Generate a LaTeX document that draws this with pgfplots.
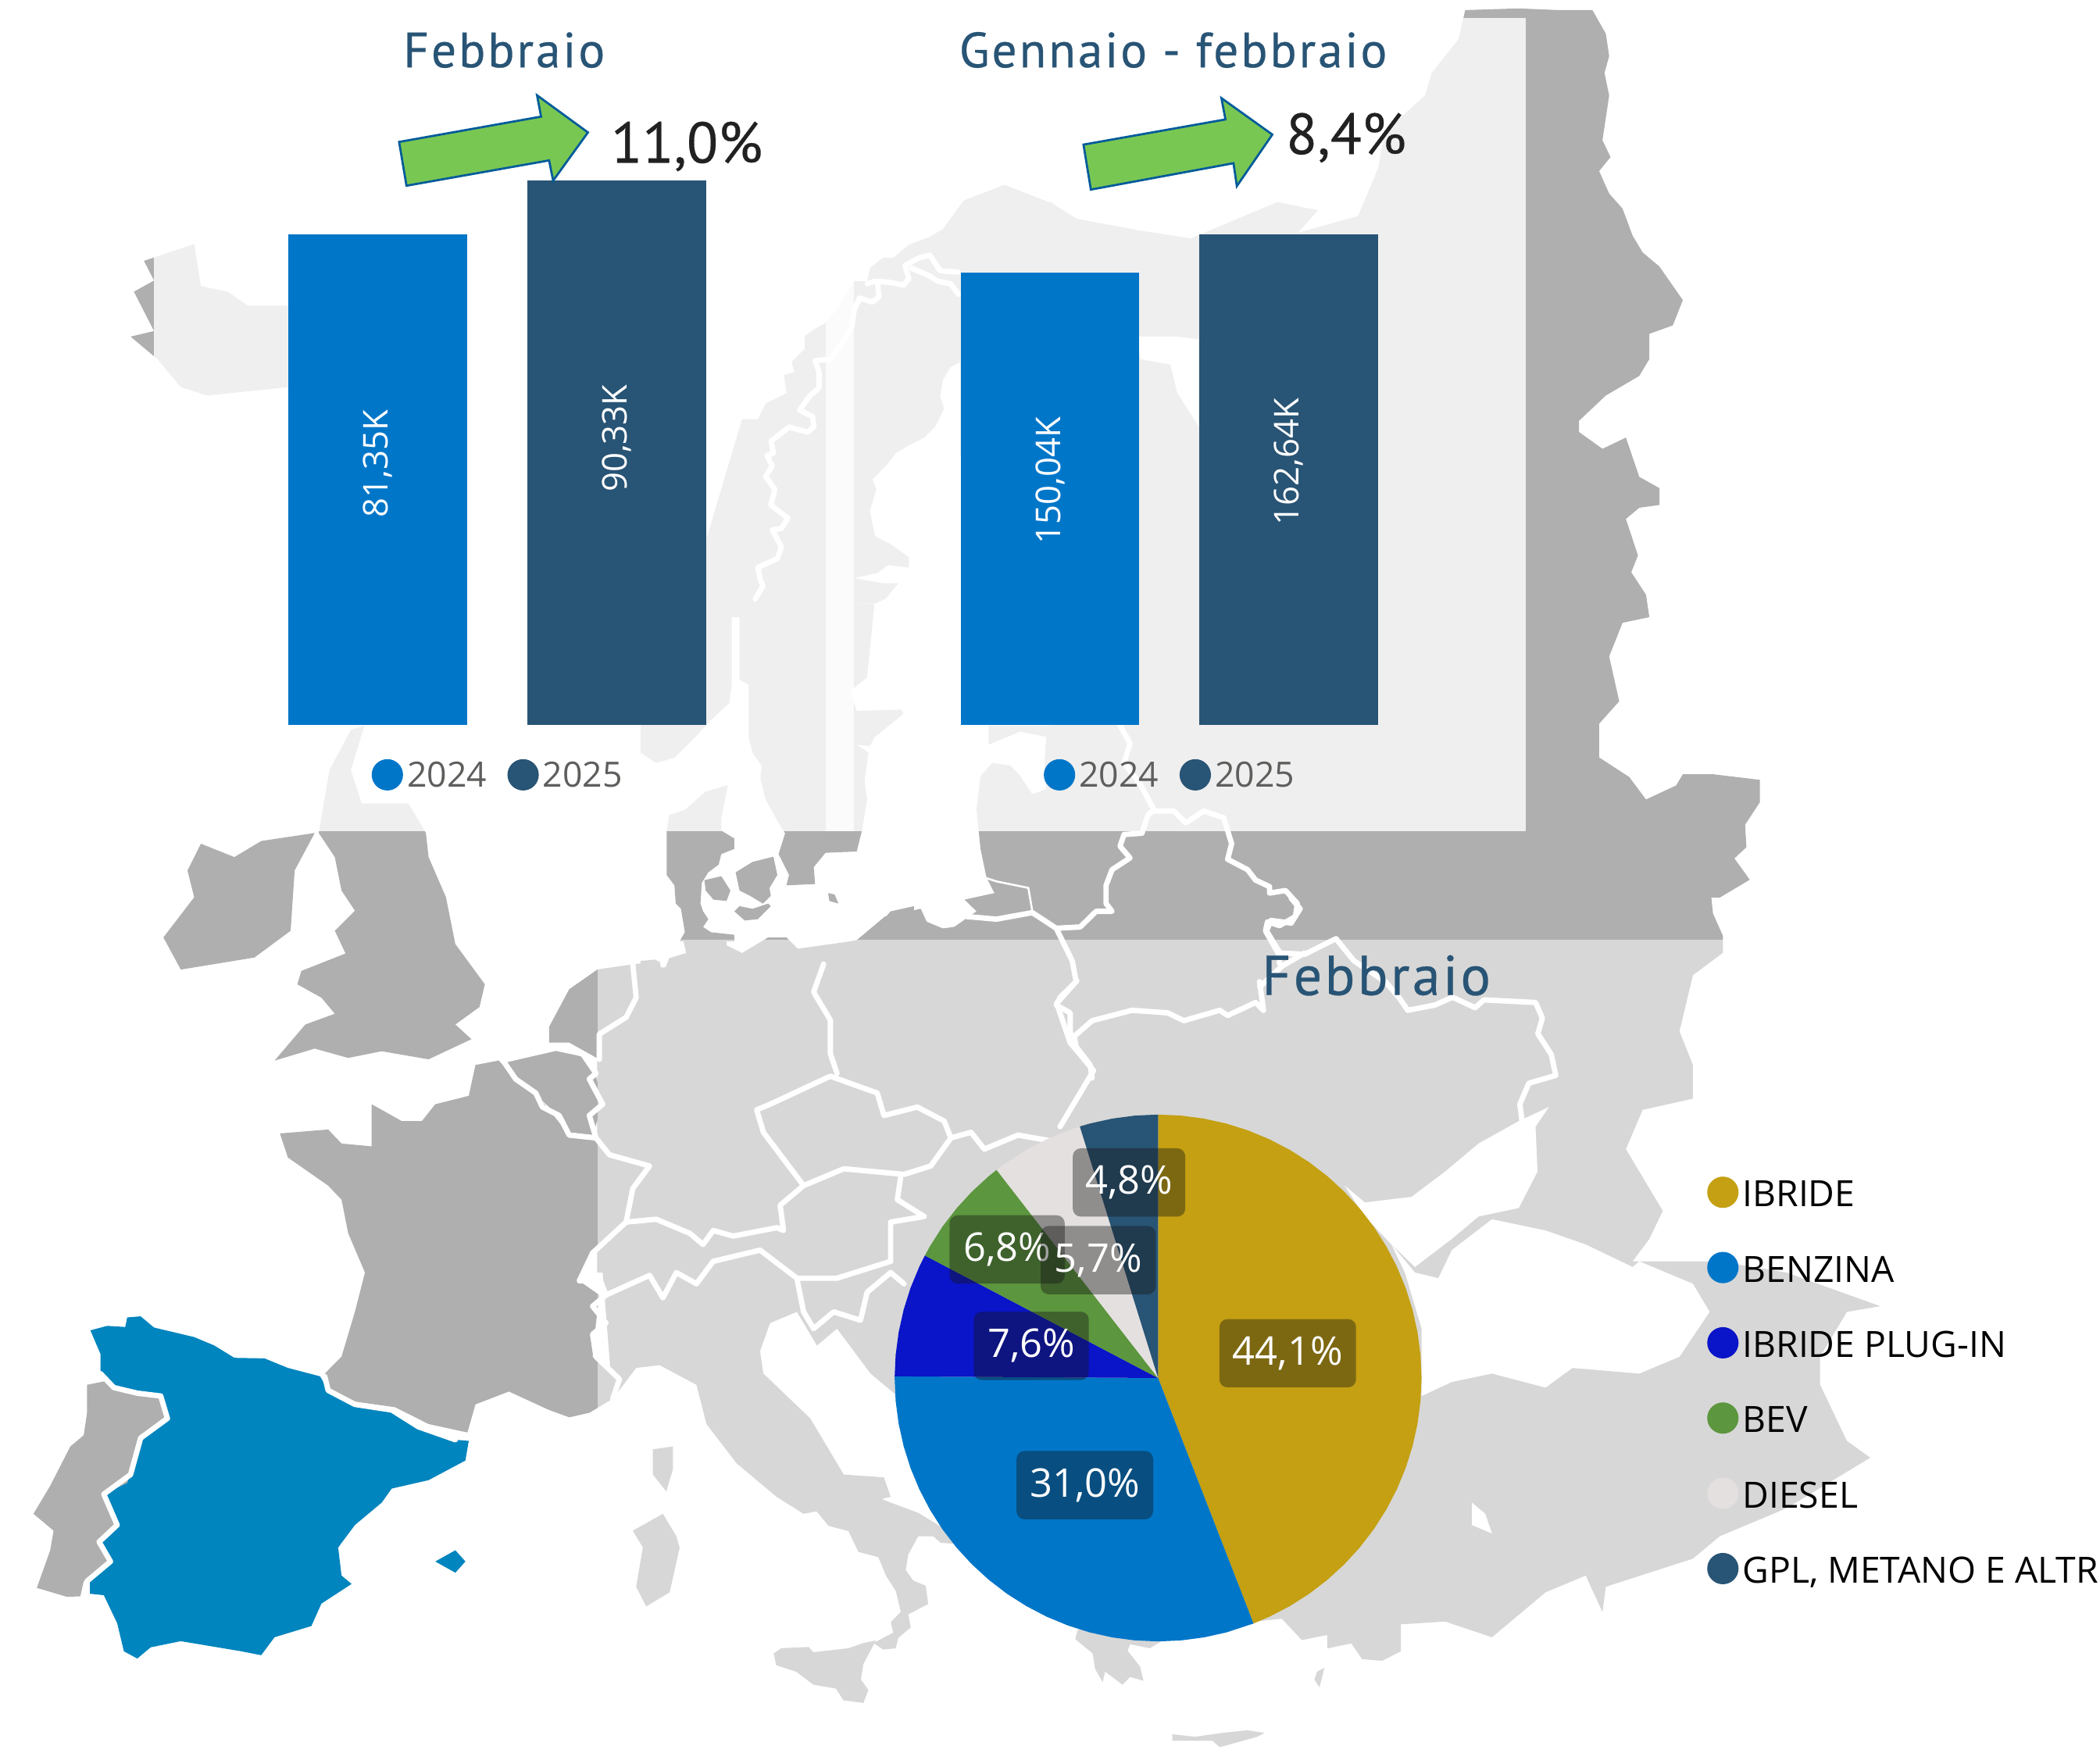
\documentclass[border=0pt]{standalone}
\usepackage{fontspec}
\usepackage{pgfplots}
\pgfplotsset{compat=1.18}
\usepgfplotslibrary{polar}
\setmainfont{Open Sans}
\newfontfamily\din[LetterSpace=4.6,FakeBold=0.4]{PT Sans}
\newfontfamily\dinn[FakeBold=0.4]{PT Sans}
\definecolor{landg}{HTML}{AFAFAF}
\definecolor{spain}{HTML}{0085BE}
\definecolor{b24}{HTML}{0076C9}
\definecolor{b25}{HTML}{285475}
\definecolor{gold}{HTML}{C4A012}
\definecolor{plug}{HTML}{0A14C8}
\definecolor{bev}{HTML}{5C963E}
\definecolor{dies}{HTML}{E4E0DF}
\definecolor{legt}{HTML}{605E5C}
\definecolor{arrf}{HTML}{79C753}
\definecolor{arrd}{HTML}{005B9A}
\definecolor{boxc}{HTML}{141414}
\pgfplotsset{
 Z/.style n args={4}{x filter/.expression={#1+x/#2},y filter/.expression={#3+y/#4}},
 z1/.style={Z={0}{2}{0}{2.387}},
 z2/.style={Z={784}{2}{0}{2.387}},
 z3/.style={Z={0}{2}{657}{2.387}},
 z4/.style={Z={784}{2}{657}{2.387}},
 z5/.style={Z={583.3}{3.36}{513.3}{5.143}},
 z6/.style={Z={554.2}{5.143}{145.8}{5.143}},
 z7/.style={Z={816.7}{2.986}{670.8}{5.143}},
 z8/.style={Z={495.8}{2.687}{1108.3}{5.143}},
 z9/.style={Z={478.3}{5.143}{525}{5.143}},
 land/.style={fill=landg,draw=none},
 sea/.style={fill=white,draw=none},
 bd/.style={draw=white,line width=4pt,line join=round,line cap=round,fill=none},
 dot/.style={legend image code/.code={\fill[fill=#1] (0pt,0.3pt) circle (11.7pt);}},
 pdot/.style={legend image code/.code={\fill[fill=#1] (0pt,3.3pt) circle (11.7pt);}},
}
\begin{document}
\begin{tikzpicture}
\useasboundingbox (0,0) rectangle (1568pt,1313.7pt);
\clip (0,0) rectangle (1568pt,1313.7pt);
% ---------- background map ----------
\begin{axis}[at={(0pt,0pt)},anchor=south west,scale only axis,width=1568pt,height=1313.7pt,
 xmin=0,xmax=1568,ymin=0,ymax=1313.7,y dir=reverse,hide axis]
% Russia and the north-east
\addplot[land,z2] coordinates {(620,18)(700,15)(760,18)(810,18)(830,60)(835,100)(828,130)(835,170)(830,210)(825,250)(837,280)(820,305)(835,345)(855,372)(870,420)(885,450)(910,475)(945,535)(930,580)(895,595)(895,640)(880,670)(830,705)(790,750)(790,770)(825,800)(860,780)(880,850)(910,870)(910,900)(880,905)(860,925)(878,990)(868,1020)(890,1060)(895,1100)(855,1110)(835,1170)(850,1250)(820,1290)(820,1350)(865,1385)(890,1425)(935,1400)(945,1380)(990,1380)(1060,1390)(1060,1430)(1038,1470)(1040,1510)(1022,1530)(1045,1568)(1000,1600)(0,1600)(0,360)(40,390)(130,410)(210,425)(340,360)(400,375)(370,415)(460,385)(490,300)(500,235)(560,170)(570,130)(610,70)};
\addplot[land,z5] coordinates {(520,146)(520,220)(545,240)(530,290)(500,340)(490,470)(500,620)(515,730)(535,790)(460,815)(490,860)(420,935)(365,900)(350,850)(260,880)(190,970)(1568,1000)(1568,146)};
% East Europe, Turkey
\addplot[land,z4] coordinates {(985,0)(990,60)(1005,100)(1005,130)(960,170)(940,270)(960,330)(960,390)(885,410)(860,480)(915,590)(895,640)(870,680)(1000,680)(1100,700)(1240,760)(1190,770)(1150,850)(1150,900)(1190,1000)(1225,1030)(1100,1120)(1000,1170)(960,1210)(830,1260)(825,1305)(800,1240)(740,1270)(660,1350)(590,1322)(524,1327)(524,1375)(496,1392)(466,1389)(450,1361)(414,1370)(414,1346)(376,1355)(346,1317)(306,1322)(152,1056)(60,900)(100,600)(0,300)(-600,300)(-600,160)(0,60)(100,0)};
% Central Europe and Balkans
\addplot[land,z3] coordinates {(892,160)(950,150)(985,145)(1000,260)(1568,200)(1568,40)(1700,0)(1800,600)(1700,887)(1500,900)(1340,920)(1300,880)(1250,800)(1220,830)(1190,770)(1100,700)(892,700)};
\addplot[land,z9] coordinates {(0,990)(60,985)(90,1030)(110,980)(175,960)(165,915)(330,915)(330,930)(390,960)(490,900)(560,900)(620,960)(680,1000)(710,1050)(740,1010)(750,930)(830,910)(890,880)(960,800)(1050,780)(1050,1300)(0,1300)};
% North Italy, boot, islands
\addplot[land,z3] coordinates {(915,925)(950,870)(985,865)(1040,900)(1055,970)(1100,1040)(1160,1100)(1200,1130)(1330,1100)(1320,1065)(1260,1060)(1210,960)(1140,880)(1135,840)(1150,790)(1190,770)(1220,700)(900,700)};
\addplot[land,z8] coordinates {(210,0)(250,70)(300,90)(330,160)(370,180)(390,260)(430,280)(445,350)(465,410)(475,490)(455,530)(460,570)(420,610)(440,635)(465,630)(470,590)(495,550)(490,500)(530,460)(525,390)(500,370)(485,330)(490,270)(510,200)(540,200)(555,225)(590,230)(570,180)(510,110)(440,60)(435,30)(400,-20)(250,-30)};
\addplot[land,z8] coordinates {(220,650)(235,630)(290,625)(300,645)(370,630)(400,610)(425,600)(400,690)(395,750)(410,790)(400,840)(360,830)(345,785)(300,770)(265,720)(225,695)};
\addplot[land,z8] coordinates {(830,560)(825,595)(860,650)(865,710)(880,760)(885,720)(920,770)(935,740)(962,755)(955,700)(930,640)(935,615)(975,630)(1000,600)(900,500)};
\addplot[land,z8] coordinates {(1020,960)(1065,970)(1120,955)(1170,945)(1205,955)(1190,970)(1115,1010)(1100,985)(1020,985)};
\addplot[land,z8] coordinates {(1310,720)(1325,705)(1315,780)(1305,750)};
\addplot[land,z3] coordinates {(945,1160)(990,1130)(1010,1170)(1015,1190)(1000,1270)(965,1295)(950,1260)(960,1190)};
\addplot[land,z3] coordinates {(975,1015)(1005,1010)(1005,1050)(995,1090)(975,1060)};
% France, Benelux, Portugal
\addplot[land,z3] coordinates {(418,452)(490,445)(510,470)(555,475)(555,400)(600,430)(630,430)(650,400)(700,385)(710,330)(745,322)(770,355)(810,395)(850,455)(892,460)(905,490)(970,510)(945,550)(935,610)(885,665)(865,715)(895,740)(890,790)(885,850)(925,890)(915,925)(880,950)(850,958)(820,945)(760,912)(710,935)(698,985)(640,970)(590,940)(530,930)(490,905)(485,880)(510,850)(530,770)(545,700)(520,630)(510,570)(490,545)(430,495)};
\addplot[land,z3] coordinates {(750,320)(830,300)(880,320)(890,350)(900,400)(885,455)(850,450)(820,405)(770,350)};
\addplot[land,z3] coordinates {(820,262)(850,195)(892,160)(950,150)(950,210)(920,270)(895,275)(895,320)(850,290)(820,290)};
\addplot[land,z3] coordinates {(130,900)(160,893)(175,910)(205,915)(240,920)(250,960)(210,995)(190,1075)(155,1095)(175,1150)(148,1180)(165,1215)(125,1250)(120,1277)(100,1278)(55,1262)(75,1195)(80,1160)(50,1130)(75,1080)(105,1010)(125,990)(130,950)};
% Great Britain, Ireland (plot units of the page)
\addplot[land] coordinates {(246,575)(262,545)(272,542)(262,575)(270,600)(305,600)(318,622)(320,640)(333,670)(340,705)(362,735)(358,752)(340,765)(352,776)(320,791)(285,785)(260,790)(235,783)(205,792)(228,765)(250,757)(240,745)(222,735)(225,725)(258,712)(250,695)(265,680)(255,665)(250,640)(238,622)};
\addplot[land] coordinates {(150,630)(175,640)(195,628)(235,622)(220,650)(217,695)(190,715)(135,724)(122,700)(145,670)(140,650)};
% Iceland
\addplot[land,z1] coordinates {(215,465)(290,435)(300,510)(340,520)(370,545)(430,545)(430,690)(310,705)(270,690)(235,640)(195,600)(230,590)(200,520)(230,500)};
% Scandinavia
\addplot[land,z6] coordinates {(0,860)(60,860)(90,800)(170,760)(160,690)(200,680)(190,640)(240,590)(240,540)(285,510)(320,490)(370,430)(430,330)(480,330)(490,280)(540,240)(580,240)(640,190)(720,160)(770,130)(800,90)(850,20)(1007,-40)(1182,28)(1182,1000)(837,1000)(837,640)(800,660)(770,710)(760,770)(775,820)(740,890)(700,930)(640,960)(590,990)(560,1030)(540,1050)(500,1090)(515,1130)(490,1210)(510,1310)(570,1340)(640,1390)(640,1430)(560,1420)(520,1450)(430,1470)(540,1490)(600,1490)(550,1550)(510,1568)(0,1568)};
\addplot[land,z1] coordinates {(1108,748)(1055,960)(1055,1100)(1200,1100)(1200,748)};
\addplot[land,z9] coordinates {(415,130)(430,190)(465,240)(460,290)(480,370)(530,460)(555,500)(530,580)(570,660)(560,700)(670,695)(665,630)(710,575)(830,570)(850,490)(870,370)(860,300)(875,190)(830,160)(880,165)(900,130)(950,90)(1010,40)(1000,25)(830,30)(820,0)(810,-50)(870,-100)(898,-380)(380,-400)(380,-90)(415,-70)};
\addplot[land,z9] coordinates {(0,190)(60,230)(130,210)(220,120)(270,65)(340,0)(350,-70)(350,-400)(0,-400)};
\addplot[land,z9] coordinates {(100,490)(110,430)(170,410)(250,340)(335,315)(310,440)(310,490)(360,520)(360,560)(310,580)(300,620)(260,650)(235,690)(230,770)(240,800)(260,830)(240,860)(270,880)(360,890)(360,915)(150,915)(170,880)(155,790)(135,770)(130,700)(100,660)};
\addplot[land,z9] coordinates {(245,680)(310,665)(345,720)(330,760)(280,755)(250,720)};
\addplot[land,z9] coordinates {(365,650)(430,610)(510,590)(525,660)(495,710)(500,740)(470,770)(420,740)(380,720)};
\addplot[land,z9] coordinates {(360,800)(380,780)(430,790)(490,770)(500,780)(450,830)(400,835)};
\addplot[land,z9] coordinates {(720,730)(745,735)(760,770)(725,760)};
% water on land
\addplot[sea,z2] coordinates {(130,600)(190,600)(222,605)(222,760)(190,700)(180,650)(135,640)};
\addplot[sea,z5] coordinates {(520,220)(600,170)(665,190)(660,300)(665,390)(630,410)(600,340)(575,300)(530,290)};
\addplot[sea,z4] coordinates {(470,600)(440,545)(470,575)(540,565)(590,520)(640,470)(700,430)(745,405)(725,440)(728,520)(700,585)(640,600)(600,640)(545,690)(510,650)};
\addplot[sea,z4] coordinates {(510,650)(545,700)(580,710)(600,660)(660,605)(740,625)(800,650)(870,690)(880,680)(960,720)(985,770)(940,850)(880,880)(780,870)(740,905)(660,880)(600,895)(555,920)(555,800)(530,700)};
\addplot[sea,z4] coordinates {(630,1110)(650,1130)(660,1165)(630,1150)};
% Spain
\addplot[fill=spain,draw=none,z3] coordinates {(135,803)(160,795)(187,797)(190,780)(210,778)(230,798)(290,815)(320,830)(350,852)(395,853)(430,870)(478,885)(490,910)(530,935)(585,945)(625,975)(680,998)(700,1000)(695,1035)(640,1070)(585,1085)(570,1110)(530,1150)(505,1190)(510,1240)(525,1255)(480,1290)(465,1330)(410,1350)(390,1382)(360,1375)(270,1357)(225,1368)(205,1388)(185,1375)(175,1325)(155,1275)(130,1272)(130,1250)(165,1215)(148,1180)(175,1150)(155,1095)(190,1075)(210,1000)(250,960)(240,920)(205,910)(170,905)(150,880)(150,845)};
\addplot[fill=spain,draw=none,z3] coordinates {(650,1215)(680,1195)(695,1215)(680,1235)};
% borders
\addplot[bd,z3] coordinates {(150,880)(170,905)(205,915)(240,920)(250,960)(210,995)(195,1060)(155,1095)(175,1150)(148,1180)(165,1215)(130,1250)(130,1275)};
\addplot[bd,z3] coordinates {(485,885)(490,910)(530,935)(585,945)(625,975)(680,998)};
\addplot[bd,z3] coordinates {(945,150)(950,210)(935,245)(895,275)(895,320)};
\addplot[bd,z3] coordinates {(750,320)(770,355)(800,380)(810,405)(835,420)(850,455)(890,460)(910,490)(970,510)(945,550)(935,610)(885,665)(865,715)(895,710)(905,740)(885,760)(905,790)(885,810)(890,850)(925,890)(915,925)};
\addplot[bd,z3] coordinates {(750,322)(830,300)(870,310)(890,345)(880,355)(900,400)(880,420)(890,460)};
\addplot[bd,z3] coordinates {(935,610)(980,605)(1030,630)(1050,650)(1065,625)(1095,635)(1160,620)(1170,625)(1165,580)(1200,545)(1140,450)(1130,410)(1150,400)(1240,350)(1310,380)(1320,420)(1370,405)(1410,430)(1420,460)(1390,510)(1350,525)(1260,515)(1200,545)};
\addplot[bd,z3] coordinates {(905,740)(970,705)(990,745)(1010,700)(1040,720)(1065,680)(1135,660)(1190,710)(1250,710)(1330,680)(1330,610)(1355,605)(1380,600)(1340,570)(1345,530)};
\addplot[bd,z3] coordinates {(1190,710)(1200,770)(1215,800)(1245,770)(1285,785)(1295,735)(1330,700)(1350,720)};
\addplot[bd,z3] coordinates {(1420,460)(1450,450)(1470,480)(1520,455)(1568,465)(1600,470)};
\addplot[bd,z3] coordinates {(1230,150)(1215,200)(1240,250)(1240,310)(1250,345)};
\addplot[bd,z5] coordinates {(850,146)(875,215)(860,290)(900,370)(935,470)(920,490)(905,560)(860,565)(850,610)(875,655)(830,700)(815,760)(815,830)(830,860)(790,860)(750,920)(690,925)(630,865)(540,890)(465,880)};
\addplot[bd,z5,line width=1.5pt] coordinates {(510,730)(540,745)(620,770)(630,860)};
\addplot[bd,z5] coordinates {(935,475)(985,475)(1015,520)(1060,475)(1110,500)(1130,600)(1120,660)(1170,700)(1190,740)(1225,765)(1225,790)(1265,780)(1295,830)(1290,880)(1250,915)(1220,900)(1215,935)(1250,1030)(1250,1060)};
\addplot[bd,z5] coordinates {(690,925)(730,1050)(740,1130)(700,1190)(690,1220)(725,1250)(725,1330)(735,1340)(740,1380)(775,1450)(780,1500)};
\addplot[bd,z5] coordinates {(735,1340)(780,1280)(880,1240)(970,1250)(1010,1280)(1100,1240)(1120,1260)(1190,1210)(1210,1240)(1200,1130)};
\addplot[bd,z7] coordinates {(440,0)(460,40)(440,95)(395,85)(385,125)(415,210)(470,215)(540,155)(580,240)(650,320)(680,380)(700,430)(760,410)(800,380)(850,420)(870,390)(985,400)(1000,460)(990,520)(1020,600)(1030,680)(970,710)(950,790)(955,860)};
\addplot[bd,z7] coordinates {(370,340)(420,260)(470,210)};
\addplot[bd,z4] coordinates {(40,180)(10,220)(30,290)(65,340)(15,440)};
\addplot[bd,z6] coordinates {(480,340)(510,330)(570,335)(620,345)(640,320)(625,270)(680,240)(720,230)(760,290)(830,295)};
\addplot[bd,z6] coordinates {(650,280)(720,310)(750,330)(800,340)(830,380)};
\addplot[bd,z6] coordinates {(520,340)(525,390)(500,410)(450,395)(430,440)(420,510)(360,600)(340,630)(280,635)(295,680)(295,740)(260,770)(220,825)(270,850)(275,890)(250,910)(180,890)(110,945)(120,990)(95,1000)(115,1040)(90,1080)(125,1130)(110,1190)(175,1240)(150,1280)(115,1285)(150,1350)(135,1395)(60,1430)(70,1480)(80,1500)(50,1550)};
% translucent panels
\addplot[fill=white,fill opacity=.8,draw=none] coordinates {(115,-5)(637.5,-5)(637.5,620.6)(115,620.6)};
\addplot[fill=white,fill opacity=.8,draw=none] coordinates {(616.6,13.4)(1139,13.4)(1139,620.6)(616.6,620.6)};
\addplot[fill=white,fill opacity=.5,draw=none] coordinates {(446,701.7)(1570,701.7)(1570,1320)(446,1320)};
\end{axis}
% ---------- Febbraio bars ----------
\begin{axis}[at={(148pt,772.2pt)},anchor=south west,scale only axis,width=446.25pt,height=450.5pt,
 xmin=-0.75,xmax=1.75,ymin=0,ymax=100,hide axis,clip=false,ybar,bar width=133.5pt,bar shift=0pt,
 legend columns=2,legend cell align=left,
 legend style={at={(0.5034,-0.083)},anchor=center,draw=none,fill=none,inner sep=0pt,text=legt,
  font=\fontsize{26}{26}\selectfont,nodes={inner sep=3pt},/tikz/every even column/.append style={column sep=12.5pt}}]
\addplot[fill=b24,draw=none,dot=b24] coordinates {(0,81.35)};
\addlegendentry{2024}
\addplot[fill=b25,draw=none,dot=b25] coordinates {(1,90.33)};
\addlegendentry{2025}
\node[rotate=90,text=white,xshift=1.5pt,font=\fontsize{25.5}{25.5}\selectfont] at (axis cs:0,43) {81,35K};
\node[rotate=90,text=white,xshift=1.5pt,font=\fontsize{25.5}{25.5}\selectfont] at (axis cs:1,47.2) {90,33K};
\end{axis}
% ---------- Gennaio - febbraio bars ----------
\begin{axis}[at={(650.5pt,772.2pt)},anchor=south west,scale only axis,width=445pt,height=450.7pt,
 xmin=-0.75,xmax=1.75,ymin=0,ymax=200,hide axis,clip=false,ybar,bar width=133.5pt,bar shift=0pt,
 legend columns=2,legend cell align=left,
 legend style={at={(0.5034,-0.083)},anchor=center,draw=none,fill=none,inner sep=0pt,text=legt,
  font=\fontsize{26}{26}\selectfont,nodes={inner sep=3pt},/tikz/every even column/.append style={column sep=12.5pt}}]
\addplot[fill=b24,draw=none,dot=b24] coordinates {(0,150.04)};
\addlegendentry{2024}
\addplot[fill=b25,draw=none,dot=b25] coordinates {(1,162.64)};
\addlegendentry{2025}
\node[rotate=90,text=white,xshift=1.5pt,font=\fontsize{25.5}{25.5}\selectfont] at (axis cs:0,80.4) {150,04K};
\node[rotate=90,text=white,xshift=1.5pt,font=\fontsize{25.5}{25.5}\selectfont] at (axis cs:1,86.6) {162,64K};
\end{axis}
% ---------- pie ----------
\begin{axis}[at={(668pt,88pt)},anchor=south west,scale only axis,width=393.4pt,height=393.4pt,
 xmin=-1,xmax=1,ymin=-1,ymax=1,hide axis,clip=false,data cs=polar,
 legend cell align=left,
 legend style={at={(1.5417,0.487)},anchor=west,draw=none,fill=none,inner sep=0pt,text=black,row sep=23.2pt,
  font=\fontsize{27}{27}\selectfont,nodes={inner sep=3pt,text height=21pt,text depth=6pt}}]
\addplot[fill=gold,draw=none,pdot=gold] coordinates {(0,0)(90,1)(85,1)(80,1)(75,1)(70,1)(65,1)(60,1)(55,1)(50,1)(45,1)(40,1)(35,1)(30,1)(25,1)(20,1)(15,1)(10,1)(5,1)(0,1)(-5,1)(-10,1)(-15,1)(-20,1)(-25,1)(-30,1)(-35,1)(-40,1)(-45,1)(-50,1)(-55,1)(-60,1)(-65,1)(-68.76,1)};
\addlegendentry{IBRIDE}
\addplot[fill=b24,draw=none,pdot=b24] coordinates {(0,0)(-68.76,1)(-75,1)(-80,1)(-85,1)(-90,1)(-95,1)(-100,1)(-105,1)(-110,1)(-115,1)(-120,1)(-125,1)(-130,1)(-135,1)(-140,1)(-145,1)(-150,1)(-155,1)(-160,1)(-165,1)(-170,1)(-175,1)(-180,1)(-180.36,1)};
\addlegendentry{BENZINA}
\addplot[fill=plug,draw=none,pdot=plug] coordinates {(0,0)(-180.36,1)(-185,1)(-190,1)(-195,1)(-200,1)(-205,1)(-207.72,1)};
\addlegendentry{IBRIDE PLUG-IN}
\addplot[fill=bev,draw=none,pdot=bev] coordinates {(0,0)(-207.72,1)(-210,1)(-215,1)(-220,1)(-225,1)(-230,1)(-232.2,1)};
\addlegendentry{BEV}
\addplot[fill=dies,draw=none,pdot=dies] coordinates {(0,0)(-232.2,1)(-235,1)(-240,1)(-245,1)(-250,1)(-252.72,1)};
\addlegendentry{DIESEL}
\addplot[fill=b25,draw=none,pdot=b25] coordinates {(0,0)(-252.72,1)(-255,1)(-260,1)(-265,1)(-270,1)};
\addlegendentry{GPL, METANO E ALTR}
\end{axis}
% ---------- overlay text, arrows, data labels ----------
\begin{scope}[x=1pt,y=-1pt,yshift=1313.7pt]
\node[anchor=base west,inner sep=0pt,text=b25,font=\din\fontsize{37}{37}\selectfont] at (301,50.3) {Febbraio};
\node[anchor=base west,inner sep=0pt,text=b25,font=\din\fontsize{37}{37}\selectfont] at (716,50.3) {Gennaio - febbraio};
\node[anchor=base west,inner sep=0pt,text=b25,font=\din\fontsize{42}{42}\selectfont] at (942,743) {Febbraio};
\node[anchor=base west,inner sep=0pt,text=black!87,font=\dinn\fontsize{43}{43}\selectfont] at (456,121.5) {11,0\%};
\node[anchor=base west,inner sep=0pt,text=black!87,font=\dinn\fontsize{43}{43}\selectfont] at (960,115) {8,4\%};
\draw[fill=arrf,draw=arrd,line width=1.6pt,line join=miter] (298,106)--(404,87.1)--(401,71.2)--(439,98.9)--(413,134.9)--(410,119.8)--(303.5,138.7)--cycle;
\draw[fill=arrf,draw=arrd,line width=1.6pt,line join=miter] (809,108)--(915,89.2)--(912,73.3)--(950,100.5)--(923.5,139)--(921,121.9)--(814.5,141.6)--cycle;
\tikzset{lbl/.style={fill=boxc,fill opacity=.4,text opacity=1,text=white,rounded corners=6pt,minimum height=51pt,inner sep=0pt,font=\fontsize{29.5}{29.5}\selectfont}}
\node[lbl,minimum width=102pt] at (961.5,1010.5) {44,1\%};
\node[lbl,minimum width=102pt] at (810,1109) {31,0\%};
\node[lbl,minimum width=86pt] at (770,1005) {7,6\%};
\node[lbl,minimum width=86pt] at (752,933) {6,8\%};
\node[lbl,minimum width=86pt] at (820,941) {5,7\%};
\node[lbl,minimum width=84pt] at (843,883) {4,8\%};
\end{scope}
\end{tikzpicture}
\end{document}
